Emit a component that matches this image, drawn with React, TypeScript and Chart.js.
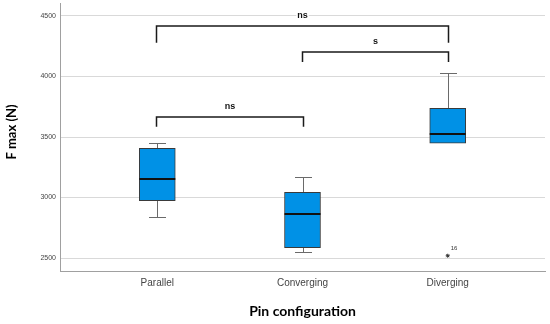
import React, { useEffect, useRef } from "react";
import { Chart, registerables } from "chart.js";

Chart.register(...registerables);

const categories = ["Parallel", "Converging", "Diverging"];
const whiskerLow = [2841, 2552, 3450];
const q1 = [2974, 2585, 3450];
const median = [3150, 2861, 3525];
const q3 = [3407, 3043, 3737];
const whiskerHigh = [3450, 3169, 4031];

const outlierCategory = [2];
const outlierValue = [2519];
const outlierLabel = ["16"];

const yTicks = [2500, 3000, 3500, 4000, 4500];
const yMin = 2393;
const yMax = 4607;

const bracketFrom = [0, 1, 0];
const bracketTo = [2, 2, 1];
const bracketTop = [4420, 4205, 3668];
const bracketFoot = [4279, 4120, 3585];
const bracketLabel = ["ns", "s", "ns"];

const yTitle = "F max (N)";
const xTitle = "Pin configuration";

const BOX_COLOR = "#0091e6";

const boxPlugin = {
  id: "boxExtras",
  beforeDatasetsDraw(chart: any) {
    const { ctx } = chart;
    const x = chart.scales.x;
    const y = chart.scales.y;
    ctx.save();
    ctx.strokeStyle = "#6a6a6a";
    ctx.lineWidth = 1;
    categories.forEach((_, i) => {
      const cx = Math.round(x.getPixelForValue(i)) + 0.5;
      const capHalf = 8.5;
      const yh = Math.round(y.getPixelForValue(whiskerHigh[i])) + 0.5;
      const y3 = y.getPixelForValue(q3[i]);
      ctx.beginPath();
      ctx.moveTo(cx, y3);
      ctx.lineTo(cx, yh);
      ctx.moveTo(cx - capHalf, yh);
      ctx.lineTo(cx + capHalf, yh);
      ctx.stroke();
      const yl = Math.round(y.getPixelForValue(whiskerLow[i])) + 0.5;
      const y1 = y.getPixelForValue(q1[i]);
      if (whiskerLow[i] < q1[i]) {
        ctx.beginPath();
        ctx.moveTo(cx, y1);
        ctx.lineTo(cx, yl);
        ctx.moveTo(cx - capHalf, yl);
        ctx.lineTo(cx + capHalf, yl);
        ctx.stroke();
      }
    });
    ctx.restore();
  },
  afterDatasetsDraw(chart: any) {
    const { ctx } = chart;
    const x = chart.scales.x;
    const y = chart.scales.y;
    ctx.save();
    ctx.strokeStyle = "#111";
    ctx.lineWidth = 2;
    categories.forEach((_, i) => {
      const cx = x.getPixelForValue(i);
      const ym = Math.round(y.getPixelForValue(median[i]));
      ctx.beginPath();
      ctx.moveTo(cx - 18, ym);
      ctx.lineTo(cx + 18, ym);
      ctx.stroke();
    });
    ctx.fillStyle = "#333";
    ctx.font = "6px 'Liberation Sans', Arial, sans-serif";
    ctx.textAlign = "left";
    ctx.textBaseline = "middle";
    outlierLabel.forEach((lab, i) => {
      const px = x.getPixelForValue(outlierCategory[i]);
      const py = y.getPixelForValue(outlierValue[i]);
      ctx.fillText(lab, px + 3, py - 7);
    });
    ctx.strokeStyle = "#1a1a1a";
    ctx.lineWidth = 1.5;
    ctx.lineJoin = "miter";
    bracketLabel.forEach((lab, i) => {
      const xa = Math.round(x.getPixelForValue(bracketFrom[i])) - 0.5;
      const xb = Math.round(x.getPixelForValue(bracketTo[i])) + 0.5;
      const yt = Math.round(y.getPixelForValue(bracketTop[i]));
      const yf = y.getPixelForValue(bracketFoot[i]);
      ctx.beginPath();
      ctx.moveTo(xa, yf);
      ctx.lineTo(xa, yt);
      ctx.lineTo(xb, yt);
      ctx.lineTo(xb, yf);
      ctx.stroke();
      ctx.font = "bold 9px 'Liberation Sans', Arial, sans-serif";
      ctx.textAlign = "center";
      ctx.textBaseline = "middle";
      const tx = (xa + xb) / 2;
      const ty = yt - 10;
      const w = ctx.measureText(lab).width;
      ctx.fillStyle = "#fff";
      ctx.fillRect(tx - w / 2 - 1, ty - 4, w + 2, 8);
      ctx.fillStyle = "#111";
      ctx.fillText(lab, tx, ty);
    });
    ctx.restore();
  },
  afterDraw(chart: any) {
    const { ctx, chartArea } = chart;
    ctx.save();
    ctx.fillStyle = "#000";
    ctx.textAlign = "center";
    ctx.textBaseline = "middle";
    ctx.font = "bold 14px Lato, 'Open Sans', sans-serif";
    ctx.fillText(xTitle, (chartArea.left + chartArea.right) / 2, 311);
    ctx.translate(12, 132);
    ctx.rotate(-Math.PI / 2);
    ctx.font = "bold 13px Lato, 'Open Sans', sans-serif";
    ctx.fillText(yTitle, 0, 0);
    ctx.restore();
  },
};

export default function App() {
  const ref = useRef<HTMLCanvasElement | null>(null);
  useEffect(() => {
    if (!ref.current) return;
    const chart = new Chart(ref.current, {
      type: "bar",
      data: {
        datasets: [
          {
            type: "bar",
            data: categories.map((_, i) => ({ x: i, y: [q1[i], q3[i]] })) as any,
            backgroundColor: BOX_COLOR,
            borderColor: "#3a3a3a",
            borderWidth: 1,
            borderSkipped: false,
            barThickness: 36,
          } as any,
          {
            type: "scatter",
            data: outlierValue.map((v, i) => ({ x: outlierCategory[i], y: v })),
            pointStyle: "star",
            radius: 2,
            borderColor: "#333",
            borderWidth: 1,
            backgroundColor: "#333",
          } as any,
        ],
      },
      options: {
        animation: false,
        responsive: false,
        events: [],
        layout: {
          autoPadding: false,
          padding: { top: 3, right: 5, left: 0, bottom: 0 },
        },
        plugins: { legend: { display: false }, tooltip: { enabled: false } },
        scales: {
          x: {
            type: "linear",
            min: -0.67,
            max: 2.67,
            offset: false,
            afterFit: (s: any) => {
              s.height = 53;
            },
            afterBuildTicks: (s: any) => {
              s.ticks = categories.map((_, i) => ({ value: i }));
            },
            grid: { display: false, drawTicks: false },
            border: { display: true, color: "#a0a0a0", width: 1 },
            ticks: {
              padding: 6,
              color: "#444",
              font: { family: "'Liberation Sans', Arial, sans-serif", size: 10 },
              callback: (v: any) => categories[v] ?? "",
              maxRotation: 0,
            },
          },
          y: {
            type: "linear",
            min: yMin,
            max: yMax,
            afterFit: (s: any) => {
              s.width = 60;
              s.paddingTop = 0;
              s.paddingBottom = 0;
            },
            afterBuildTicks: (s: any) => {
              s.ticks = yTicks.map((v) => ({ value: v }));
            },
            grid: { color: "#d9d9d9", drawTicks: false, lineWidth: 1 },
            border: { display: true, color: "#a0a0a0", width: 1 },
            ticks: {
              padding: 4,
              color: "#444",
              font: { family: "'Liberation Sans', Arial, sans-serif", size: 7, lineHeight: 0.05 },
              callback: (v: any) => String(v),
            },
          },
        },
      },
      plugins: [boxPlugin],
    } as any);
    return () => chart.destroy();
  }, []);
  return (
    <div
      style={{
        position: "fixed",
        left: 0,
        top: 0,
        width: 550,
        height: 324,
        background: "#fff",
      }}
    >
      <canvas ref={ref} width={550} height={324} style={{ display: "block" }} />
    </div>
  );
}
